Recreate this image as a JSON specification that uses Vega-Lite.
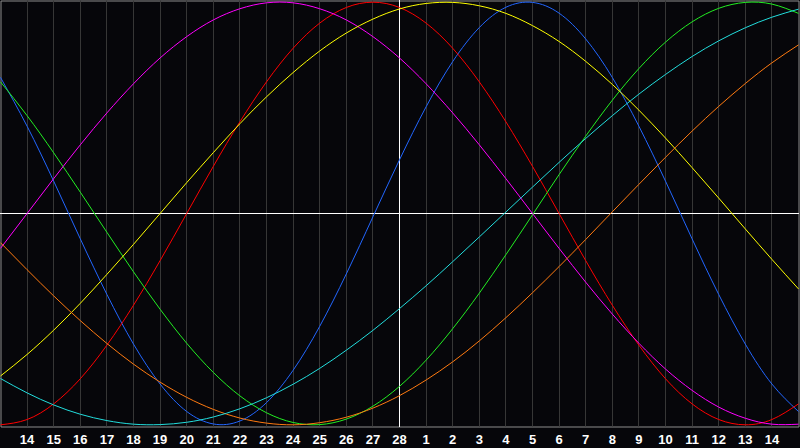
{
  "$schema": "https://vega.github.io/schema/vega-lite/v6.json",
  "width": 798,
  "height": 426,
  "autosize": "none",
  "padding": {"left": 0.5, "top": 0.5, "right": 1.5, "bottom": 21.5},
  "background": "#06060a",
  "config": {
    "view": {"stroke": "#8c8c8c", "strokeWidth": 1}
  },
  "data": {
    "values": [
      {"d": 0, "c": "physical", "v": 0.644}, {"d": 1, "c": "physical", "v": 0.413}, {"d": 2, "c": "physical", "v": 0.153}, {"d": 3, "c": "physical", "v": -0.12}, {"d": 4, "c": "physical", "v": -0.383}, {"d": 5, "c": "physical", "v": -0.618}, {"d": 6, "c": "physical", "v": -0.807}, {"d": 7, "c": "physical", "v": -0.937}, {"d": 8, "c": "physical", "v": -0.996}, {"d": 9, "c": "physical", "v": -0.982}, {"d": 10, "c": "physical", "v": -0.895}, {"d": 11, "c": "physical", "v": -0.742}, {"d": 12, "c": "physical", "v": -0.534}, {"d": 13, "c": "physical", "v": -0.286}, {"d": 14, "c": "physical", "v": -0.016}, {"d": 15, "c": "physical", "v": 0.254}, {"d": 16, "c": "physical", "v": 0.505}, {"d": 17, "c": "physical", "v": 0.719}, {"d": 18, "c": "physical", "v": 0.88}, {"d": 19, "c": "physical", "v": 0.976}, {"d": 20, "c": "physical", "v": 0.999}, {"d": 21, "c": "physical", "v": 0.948}, {"d": 22, "c": "physical", "v": 0.826}, {"d": 23, "c": "physical", "v": 0.644}, {"d": 24, "c": "physical", "v": 0.413}, {"d": 25, "c": "physical", "v": 0.153}, {"d": 26, "c": "physical", "v": -0.12}, {"d": 27, "c": "physical", "v": -0.383}, {"d": 28, "c": "physical", "v": -0.618}, {"d": 29, "c": "physical", "v": -0.807}, {"d": 30, "c": "physical", "v": -0.937},

      {"d": 0, "c": "emotional", "v": -1}, {"d": 1, "c": "emotional", "v": -0.975}, {"d": 2, "c": "emotional", "v": -0.901}, {"d": 3, "c": "emotional", "v": -0.782}, {"d": 4, "c": "emotional", "v": -0.623}, {"d": 5, "c": "emotional", "v": -0.434}, {"d": 6, "c": "emotional", "v": -0.223}, {"d": 7, "c": "emotional", "v": 0}, {"d": 8, "c": "emotional", "v": 0.223}, {"d": 9, "c": "emotional", "v": 0.434}, {"d": 10, "c": "emotional", "v": 0.623}, {"d": 11, "c": "emotional", "v": 0.782}, {"d": 12, "c": "emotional", "v": 0.901}, {"d": 13, "c": "emotional", "v": 0.975}, {"d": 14, "c": "emotional", "v": 1}, {"d": 15, "c": "emotional", "v": 0.975}, {"d": 16, "c": "emotional", "v": 0.901}, {"d": 17, "c": "emotional", "v": 0.782}, {"d": 18, "c": "emotional", "v": 0.623}, {"d": 19, "c": "emotional", "v": 0.434}, {"d": 20, "c": "emotional", "v": 0.223}, {"d": 21, "c": "emotional", "v": 0}, {"d": 22, "c": "emotional", "v": -0.223}, {"d": 23, "c": "emotional", "v": -0.434}, {"d": 24, "c": "emotional", "v": -0.623}, {"d": 25, "c": "emotional", "v": -0.782}, {"d": 26, "c": "emotional", "v": -0.901}, {"d": 27, "c": "emotional", "v": -0.975}, {"d": 28, "c": "emotional", "v": -1}, {"d": 29, "c": "emotional", "v": -0.975}, {"d": 30, "c": "emotional", "v": -0.901},

      {"d": 0, "c": "intellectual", "v": 0.623}, {"d": 1, "c": "intellectual", "v": 0.463}, {"d": 2, "c": "intellectual", "v": 0.287}, {"d": 3, "c": "intellectual", "v": 0.101}, {"d": 4, "c": "intellectual", "v": -0.089}, {"d": 5, "c": "intellectual", "v": -0.276}, {"d": 6, "c": "intellectual", "v": -0.453}, {"d": 7, "c": "intellectual", "v": -0.614}, {"d": 8, "c": "intellectual", "v": -0.752}, {"d": 9, "c": "intellectual", "v": -0.863}, {"d": 10, "c": "intellectual", "v": -0.943}, {"d": 11, "c": "intellectual", "v": -0.989}, {"d": 12, "c": "intellectual", "v": -0.999}, {"d": 13, "c": "intellectual", "v": -0.973}, {"d": 14, "c": "intellectual", "v": -0.912}, {"d": 15, "c": "intellectual", "v": -0.818}, {"d": 16, "c": "intellectual", "v": -0.694}, {"d": 17, "c": "intellectual", "v": -0.545}, {"d": 18, "c": "intellectual", "v": -0.377}, {"d": 19, "c": "intellectual", "v": -0.195}, {"d": 20, "c": "intellectual", "v": -0.006}, {"d": 21, "c": "intellectual", "v": 0.184}, {"d": 22, "c": "intellectual", "v": 0.366}, {"d": 23, "c": "intellectual", "v": 0.536}, {"d": 24, "c": "intellectual", "v": 0.686}, {"d": 25, "c": "intellectual", "v": 0.811}, {"d": 26, "c": "intellectual", "v": 0.907}, {"d": 27, "c": "intellectual", "v": 0.971}, {"d": 28, "c": "intellectual", "v": 0.999}, {"d": 29, "c": "intellectual", "v": 0.991}, {"d": 30, "c": "intellectual", "v": 0.947},

      {"d": 0, "c": "intuitive", "v": -0.165}, {"d": 1, "c": "intuitive", "v": 0}, {"d": 2, "c": "intuitive", "v": 0.165}, {"d": 3, "c": "intuitive", "v": 0.325}, {"d": 4, "c": "intuitive", "v": 0.476}, {"d": 5, "c": "intuitive", "v": 0.614}, {"d": 6, "c": "intuitive", "v": 0.736}, {"d": 7, "c": "intuitive", "v": 0.837}, {"d": 8, "c": "intuitive", "v": 0.916}, {"d": 9, "c": "intuitive", "v": 0.969}, {"d": 10, "c": "intuitive", "v": 0.997}, {"d": 11, "c": "intuitive", "v": 0.997}, {"d": 12, "c": "intuitive", "v": 0.969}, {"d": 13, "c": "intuitive", "v": 0.916}, {"d": 14, "c": "intuitive", "v": 0.837}, {"d": 15, "c": "intuitive", "v": 0.736}, {"d": 16, "c": "intuitive", "v": 0.614}, {"d": 17, "c": "intuitive", "v": 0.476}, {"d": 18, "c": "intuitive", "v": 0.325}, {"d": 19, "c": "intuitive", "v": 0.165}, {"d": 20, "c": "intuitive", "v": 0}, {"d": 21, "c": "intuitive", "v": -0.165}, {"d": 22, "c": "intuitive", "v": -0.325}, {"d": 23, "c": "intuitive", "v": -0.476}, {"d": 24, "c": "intuitive", "v": -0.614}, {"d": 25, "c": "intuitive", "v": -0.736}, {"d": 26, "c": "intuitive", "v": -0.837}, {"d": 27, "c": "intuitive", "v": -0.916}, {"d": 28, "c": "intuitive", "v": -0.969}, {"d": 29, "c": "intuitive", "v": -0.997}, {"d": 30, "c": "intuitive", "v": -0.997},

      {"d": 0, "c": "aesthetic", "v": -0.769}, {"d": 1, "c": "aesthetic", "v": -0.667}, {"d": 2, "c": "aesthetic", "v": -0.552}, {"d": 3, "c": "aesthetic", "v": -0.425}, {"d": 4, "c": "aesthetic", "v": -0.288}, {"d": 5, "c": "aesthetic", "v": -0.146}, {"d": 6, "c": "aesthetic", "v": 0}, {"d": 7, "c": "aesthetic", "v": 0.146}, {"d": 8, "c": "aesthetic", "v": 0.288}, {"d": 9, "c": "aesthetic", "v": 0.425}, {"d": 10, "c": "aesthetic", "v": 0.552}, {"d": 11, "c": "aesthetic", "v": 0.667}, {"d": 12, "c": "aesthetic", "v": 0.769}, {"d": 13, "c": "aesthetic", "v": 0.854}, {"d": 14, "c": "aesthetic", "v": 0.92}, {"d": 15, "c": "aesthetic", "v": 0.968}, {"d": 16, "c": "aesthetic", "v": 0.994}, {"d": 17, "c": "aesthetic", "v": 0.999}, {"d": 18, "c": "aesthetic", "v": 0.983}, {"d": 19, "c": "aesthetic", "v": 0.947}, {"d": 20, "c": "aesthetic", "v": 0.889}, {"d": 21, "c": "aesthetic", "v": 0.814}, {"d": 22, "c": "aesthetic", "v": 0.72}, {"d": 23, "c": "aesthetic", "v": 0.611}, {"d": 24, "c": "aesthetic", "v": 0.489}, {"d": 25, "c": "aesthetic", "v": 0.357}, {"d": 26, "c": "aesthetic", "v": 0.217}, {"d": 27, "c": "aesthetic", "v": 0.073}, {"d": 28, "c": "aesthetic", "v": -0.073}, {"d": 29, "c": "aesthetic", "v": -0.217}, {"d": 30, "c": "aesthetic", "v": -0.357},

      {"d": 0, "c": "awareness", "v": -0.138}, {"d": 1, "c": "awareness", "v": -0.266}, {"d": 2, "c": "awareness", "v": -0.39}, {"d": 3, "c": "awareness", "v": -0.507}, {"d": 4, "c": "awareness", "v": -0.615}, {"d": 5, "c": "awareness", "v": -0.713}, {"d": 6, "c": "awareness", "v": -0.798}, {"d": 7, "c": "awareness", "v": -0.87}, {"d": 8, "c": "awareness", "v": -0.927}, {"d": 9, "c": "awareness", "v": -0.968}, {"d": 10, "c": "awareness", "v": -0.992}, {"d": 11, "c": "awareness", "v": -1}, {"d": 12, "c": "awareness", "v": -0.99}, {"d": 13, "c": "awareness", "v": -0.964}, {"d": 14, "c": "awareness", "v": -0.921}, {"d": 15, "c": "awareness", "v": -0.862}, {"d": 16, "c": "awareness", "v": -0.788}, {"d": 17, "c": "awareness", "v": -0.702}, {"d": 18, "c": "awareness", "v": -0.603}, {"d": 19, "c": "awareness", "v": -0.493}, {"d": 20, "c": "awareness", "v": -0.375}, {"d": 21, "c": "awareness", "v": -0.251}, {"d": 22, "c": "awareness", "v": -0.123}, {"d": 23, "c": "awareness", "v": 0.008}, {"d": 24, "c": "awareness", "v": 0.138}, {"d": 25, "c": "awareness", "v": 0.266}, {"d": 26, "c": "awareness", "v": 0.39}, {"d": 27, "c": "awareness", "v": 0.507}, {"d": 28, "c": "awareness", "v": 0.615}, {"d": 29, "c": "awareness", "v": 0.713}, {"d": 30, "c": "awareness", "v": 0.798},

      {"d": 0, "c": "spiritual", "v": -0.781}, {"d": 1, "c": "spiritual", "v": -0.849}, {"d": 2, "c": "spiritual", "v": -0.906}, {"d": 3, "c": "spiritual", "v": -0.95}, {"d": 4, "c": "spiritual", "v": -0.98}, {"d": 5, "c": "spiritual", "v": -0.997}, {"d": 6, "c": "spiritual", "v": -0.999}, {"d": 7, "c": "spiritual", "v": -0.988}, {"d": 8, "c": "spiritual", "v": -0.963}, {"d": 9, "c": "spiritual", "v": -0.924}, {"d": 10, "c": "spiritual", "v": -0.872}, {"d": 11, "c": "spiritual", "v": -0.808}, {"d": 12, "c": "spiritual", "v": -0.733}, {"d": 13, "c": "spiritual", "v": -0.647}, {"d": 14, "c": "spiritual", "v": -0.553}, {"d": 15, "c": "spiritual", "v": -0.45}, {"d": 16, "c": "spiritual", "v": -0.342}, {"d": 17, "c": "spiritual", "v": -0.228}, {"d": 18, "c": "spiritual", "v": -0.111}, {"d": 19, "c": "spiritual", "v": 0.007}, {"d": 20, "c": "spiritual", "v": 0.125}, {"d": 21, "c": "spiritual", "v": 0.242}, {"d": 22, "c": "spiritual", "v": 0.355}, {"d": 23, "c": "spiritual", "v": 0.463}, {"d": 24, "c": "spiritual", "v": 0.565}, {"d": 25, "c": "spiritual", "v": 0.658}, {"d": 26, "c": "spiritual", "v": 0.743}, {"d": 27, "c": "spiritual", "v": 0.817}, {"d": 28, "c": "spiritual", "v": 0.879}, {"d": 29, "c": "spiritual", "v": 0.929}, {"d": 30, "c": "spiritual", "v": 0.967}
    ]
  },
  "encoding": {
    "x": {
      "field": "d",
      "type": "quantitative",
      "scale": {"domain": [0, 30], "nice": false, "zero": false},
      "axis": {
        "values": [1, 2, 3, 4, 5, 6, 7, 8, 9, 10, 11, 12, 13, 14, 15, 16, 17, 18, 19, 20, 21, 22, 23, 24, 25, 26, 27, 28, 29],
        "labelExpr": "datum.value <= 15 ? datum.value + 13 : datum.value - 15",
        "title": null,
        "translate": 0,
        "grid": true,
        "gridColor": "#363636",
        "gridOpacity": 1,
        "ticks": false,
        "domain": false,
        "labelColor": "#ffffff",
        "labelFont": "Liberation Sans",
        "labelFontWeight": "bold",
        "labelFontSize": 13,
        "labelPadding": 7,
        "labelFlush": false,
        "labelOverlap": false
      }
    },
    "y": {
      "field": "v",
      "type": "quantitative",
      "scale": {"domain": [-1.008, 1.008], "nice": false, "zero": false},
      "axis": null
    }
  },
  "layer": [
    {
      "mark": {"type": "rule", "color": "#ffffff", "strokeWidth": 1},
      "encoding": {"x": {"datum": 15}, "y": null}
    },
    {
      "mark": {"type": "rule", "color": "#ffffff", "strokeWidth": 1},
      "encoding": {"y": {"datum": 0}, "x": null}
    },
    {
      "mark": {"type": "line", "strokeWidth": 1, "interpolate": "natural"},
      "encoding": {
        "color": {
          "field": "c",
          "type": "nominal",
          "scale": {
            "domain": ["physical", "emotional", "intellectual", "intuitive", "aesthetic", "awareness", "spiritual"],
            "range": ["#2266ff", "#ff0000", "#22ee22", "#ff00ff", "#ffff00", "#ff7a10", "#22dddd"]
          },
          "legend": null
        }
      }
    }
  ]
}
